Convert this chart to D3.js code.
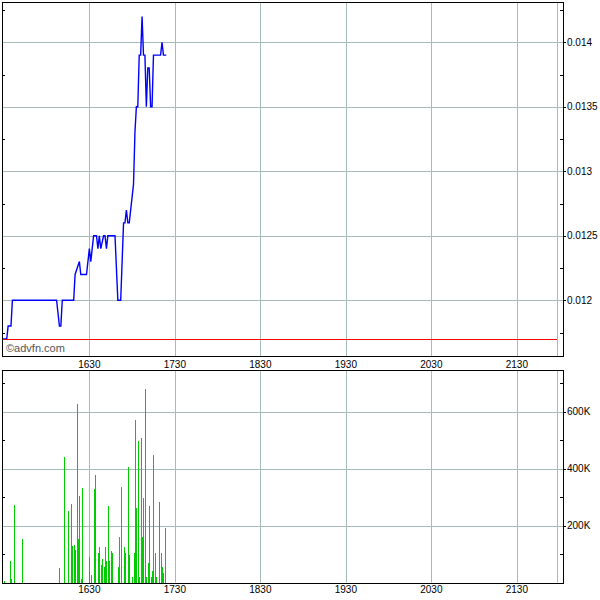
<!DOCTYPE html>
<html><head><meta charset="utf-8">
<script src="https://cdn.jsdelivr.net/npm/d3@7"></script>
<style>
body{margin:0;background:#fff}
text{font-family:"Liberation Sans",Arial,sans-serif}
</style>
</head><body>
<svg id="c" width="600" height="600"></svg>
<script>
// ---- data ----
const priceTimes = ["15:29","15:32","15:33","15:35","15:36","16:07","16:09","16:10","16:11","16:19",
  "16:20","16:23","16:24","16:28","16:30","16:31","16:32","16:33","16:35","16:36",
  "16:37","16:38","16:40","16:41","16:42","16:43","16:48","16:50","16:52","16:54",
  "16:55","16:56","16:57","16:58","17:00","17:01","17:02","17:03","17:04","17:05",
  "17:06","17:07","17:08","17:09","17:10","17:11","17:12","17:13","17:14","17:15",
  "17:20","17:21","17:22","17:24"];
const priceValues = [0.0117,0.0117,0.0118,0.0118,0.0120,0.0120,0.0118,0.0118,0.0120,0.0120,
  0.0122,0.0123,0.0122,0.0122,0.0124,0.0123,0.0124,0.0125,0.0125,0.0124,
  0.0125,0.0124,0.0125,0.0125,0.0124,0.0125,0.0125,0.0120,0.0120,0.0126,
  0.0126,0.0127,0.0126,0.0126,0.0128,0.0129,0.0133,0.0135,0.0135,0.0139,
  0.0139,0.0142,0.0139,0.0139,0.0135,0.0138,0.0138,0.0135,0.0135,0.0139,
  0.0139,0.0140,0.0139,0.0139];
const volumeTimes = ["15:30","15:34","15:35","15:37","15:43","16:09","16:12","16:15","16:17","16:18",
  "16:19","16:20","16:21","16:22","16:23","16:24","16:25","16:30","16:31","16:33",
  "16:34","16:36","16:37","16:38","16:39","16:40","16:41","16:42","16:43","16:44",
  "16:45","16:46","16:50","16:51","16:52","16:54","16:55","16:57","16:58","17:00",
  "17:01","17:02","17:03","17:04","17:05","17:06","17:07","17:08","17:09","17:10",
  "17:11","17:12","17:13","17:14","17:15","17:16","17:17","17:19","17:20","17:21",
  "17:22","17:23"];
const volumeValues = [6000,74000,12000,271000,152000,50000,439000,250000,274000,128000,
  130000,113000,628000,152000,302000,12000,331000,91000,28000,327000,
  379000,103000,126000,63000,81000,53000,123000,77000,270000,74000,
  109000,105000,56000,161000,337000,123000,102000,407000,95000,21000,
  105000,572000,260000,495000,18000,509000,158000,298000,681000,21000,
  70000,270000,18000,42000,449000,102000,18000,284000,102000,53000,
  35000,193000];
const previousClose = 0.0117;
const timeDomain = ["15:28:42","22:02:24"];
const sessionEnd = "21:58";
const timeTicks = ["16:30","17:30","18:30","19:30","20:30","21:30"];
const priceTicks = [0.012,0.0125,0.013,0.0135,0.014];
const priceMinorTicks = [0.01175,0.01225,0.01275,0.01325,0.01375,0.01425];
const priceDomain = [0.011568,0.014312];
const volumeTicks = [200000,400000,600000];
const volumeMinorTicks = [100000,300000,500000,700000];
const volumeDomain = [0,746000];

// ---- helpers ----
function toMin(s){const p=s.split(":").map(Number);return p[0]*60+p[1]+(p[2]||0)/60;}
function fmtTime(m){const h=Math.floor(m/60),mm=Math.round(m%60);return String(h)+String(mm).padStart(2,"0");}
const crisp = v => Math.round(v)+0.5;

const svg = d3.select("#c");
const L=2, R=563;
const top1=2, bot1=356, top2=370, bot2=582.5;
const gridColor="#a6baba";

const x = d3.scaleLinear().domain(timeDomain.map(toMin)).range([L,R]);
const yP = d3.scaleLinear().domain(priceDomain).range([bot1,top1]);
const yV = d3.scaleLinear().domain(volumeDomain).range([bot2,top2]);

function panel(y0,y1,yScale,ticks,minor,fmt,labelY){
  const g = svg.append("g");
  g.selectAll(".vg").data(timeTicks.map(toMin).concat([toMin(sessionEnd)])).enter().append("line")
    .attr("x1",d=>crisp(x(d))).attr("x2",d=>crisp(x(d))).attr("y1",y0).attr("y2",y1)
    .attr("stroke",gridColor).attr("stroke-width",1);
  g.selectAll(".hg").data(ticks).enter().append("line")
    .attr("x1",L).attr("x2",R+3).attr("y1",d=>crisp(yScale(d))).attr("y2",d=>crisp(yScale(d)))
    .attr("stroke",gridColor).attr("stroke-width",1);
  g.selectAll(".ht").data(ticks).enter().append("line")
    .attr("x1",R).attr("x2",R+3).attr("y1",d=>crisp(yScale(d))).attr("y2",d=>crisp(yScale(d)))
    .attr("stroke","#000").attr("stroke-width",1);
  const mn = minor.filter(v=>yScale(v)>y0+1 && yScale(v)<y1-1);
  g.selectAll(".ml").data(mn).enter().append("line")
    .attr("x1",L).attr("x2",L+3).attr("y1",d=>crisp(yScale(d))).attr("y2",d=>crisp(yScale(d)))
    .attr("stroke","#000");
  g.selectAll(".mr").data(mn).enter().append("line")
    .attr("x1",R-3).attr("x2",R).attr("y1",d=>crisp(yScale(d))).attr("y2",d=>crisp(yScale(d)))
    .attr("stroke","#000");
  g.selectAll(".yl").data(ticks).enter().append("text")
    .attr("x",R+4).attr("y",d=>yScale(d)).attr("dy","0.36em")
    .attr("font-size",10).attr("fill","#000").text(fmt);
  g.selectAll(".xl").data(timeTicks).enter().append("text")
    .attr("x",d=>x(toMin(d))).attr("y",labelY).attr("text-anchor","middle")
    .attr("font-size",10).attr("fill","#000").text(d=>fmtTime(toMin(d)));
  return g;
}

panel(top1,bot1,yP,priceTicks,priceMinorTicks,d=>String(d),368);
panel(top2,bot2,yV,volumeTicks,volumeMinorTicks,d=>(d/1000)+"K",593);

// price line
const pts = priceTimes.map((t,i)=>[toMin(t),priceValues[i]]);
svg.append("path").datum(pts)
  .attr("d",d3.line().x(d=>x(d[0])).y(d=>yP(d[1])))
  .attr("fill","none").attr("stroke","#0000ff").attr("stroke-width",1.4)
  .attr("stroke-linejoin","miter");

// previous close line
svg.append("rect").attr("shape-rendering","crispEdges")
  .attr("x",L).attr("width",Math.round(x(toMin(sessionEnd)))-L)
  .attr("y",Math.round(yP(previousClose))).attr("height",1)
  .attr("fill","#ff0000");

// volume bars
svg.append("g").attr("shape-rendering","crispEdges").selectAll("rect")
  .data(volumeTimes.map((t,i)=>[toMin(t),volumeValues[i]])).enter().append("rect")
  .attr("x",d=>Math.round(x(d[0])))
  .attr("width",1)
  .attr("y",d=>yV(d[1]))
  .attr("height",d=>bot2-yV(d[1]))
  .attr("fill","#00cc00");

// watermark
svg.append("text").attr("x",6).attr("y",352).attr("font-size",11).attr("fill","#555").text("©advfn.com");

// frames
[[top1,bot1],[top2,bot2]].forEach(([a,b])=>{
  svg.append("rect").attr("x",L+0.5).attr("y",Math.round(a)+0.5)
    .attr("width",Math.round(R-L)).attr("height",Math.round(b-a))
    .attr("fill","none").attr("stroke","#000").attr("stroke-width",1);
});
</script>
</body></html>
